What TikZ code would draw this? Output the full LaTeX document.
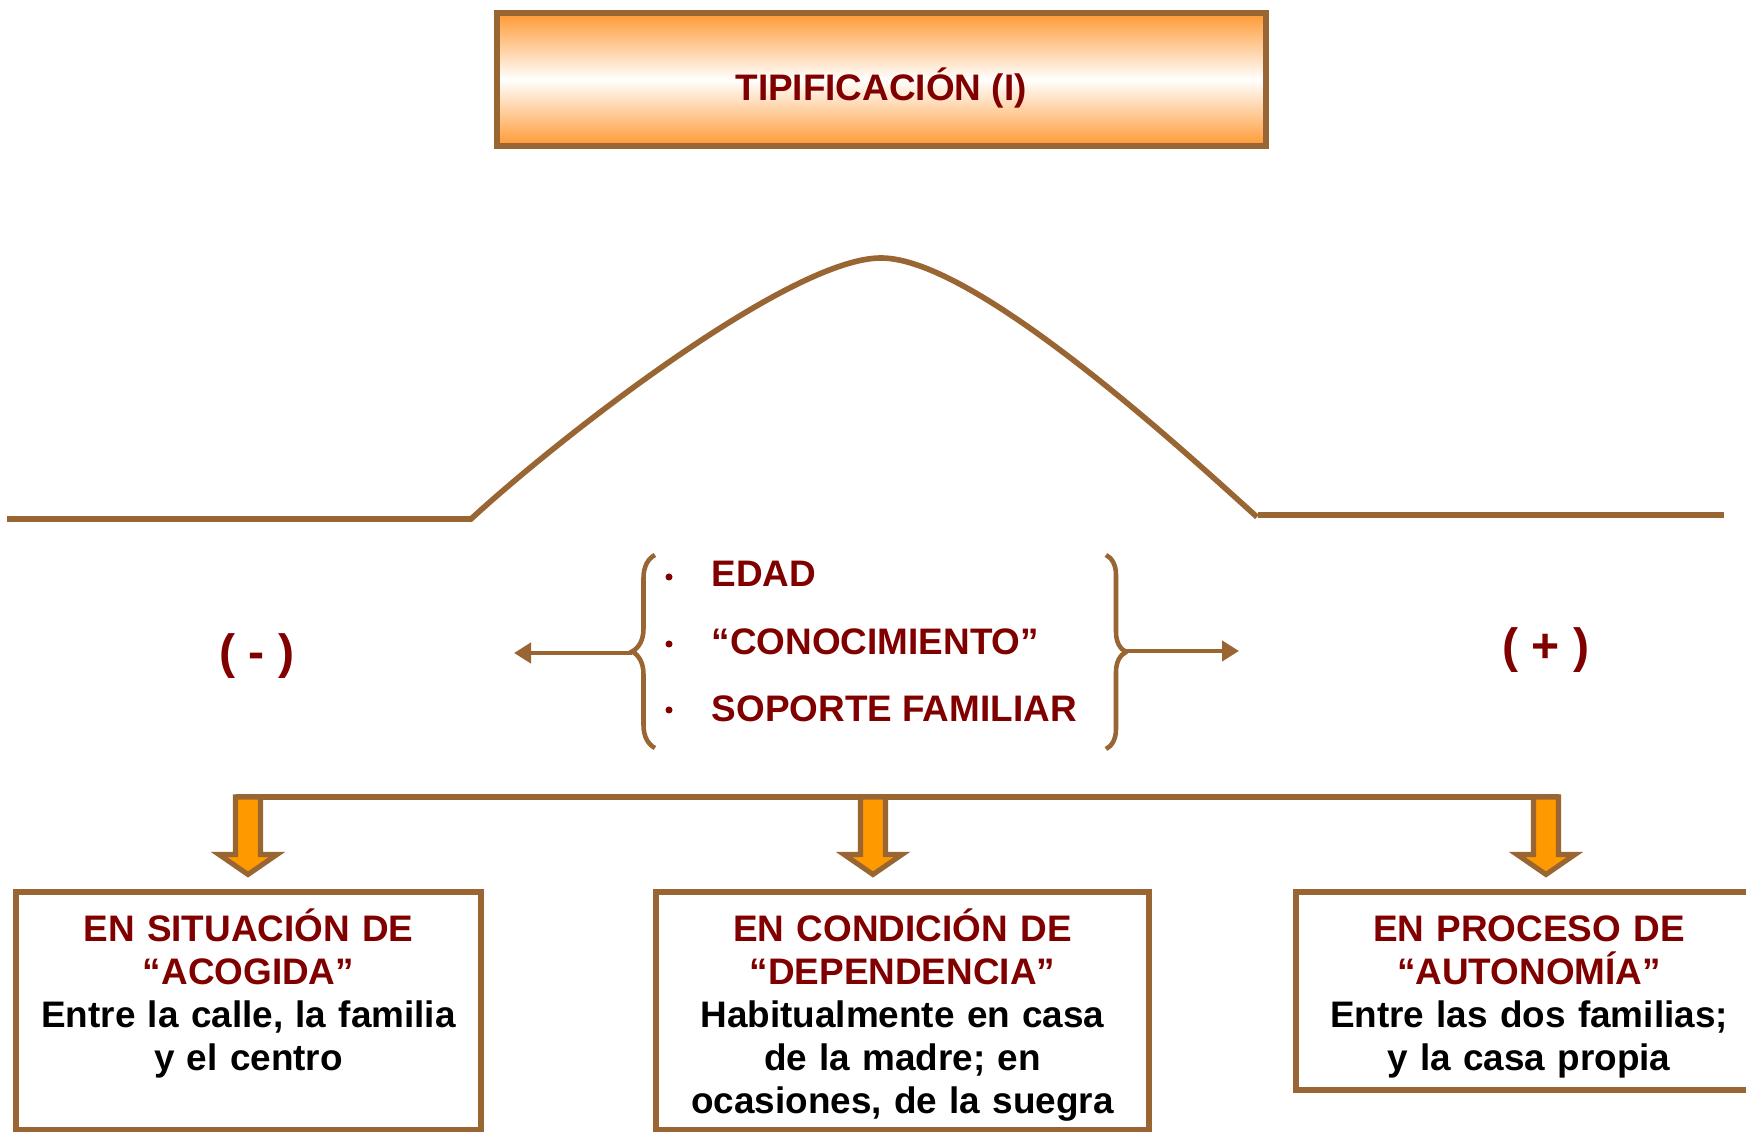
\documentclass[tikz,border=0pt]{standalone}
\usepackage{fontspec}
\setmainfont{Liberation Sans}
\usetikzlibrary{arrows.meta}
\usetikzlibrary{calc}
\usetikzlibrary{positioning}
\usetikzlibrary{decorations.pathreplacing}

\definecolor{tiporojo}{RGB}{128,0,0}
\definecolor{tipomarron}{RGB}{153,102,51}
\definecolor{tiponaranja}{RGB}{255,153,0}
\definecolor{tipodegradado}{RGB}{255,153,51}

\tikzset{
  linea/.style={draw=tipomarron, line width=1.6pt},
  caja/.style={draw=tipomarron, line width=1.55pt, inner sep=0pt},
  rotulo/.style={inner sep=0pt, text=tiporojo, font=\bfseries\fontsize{10.5}{12.2}\selectfont},
  texto/.style={inner sep=0pt, text width=4.6cm, align=center, anchor=base, font=\bfseries\fontsize{10.5}{12.2}\selectfont},
  flechabloque/.style={draw=tipomarron, fill=tiponaranja, line width=1.45pt, line join=miter},
  llave/.style={draw=tipomarron, line width=1.3pt, decorate}
}

\begin{document}
\begin{tikzpicture}
                \useasboundingbox (0,0) rectangle (17.46,11.32);

                \node[caja, line width=1.7pt, minimum width=7.69cm, minimum height=1.33cm,
                      top color=tipodegradado, bottom color=tipodegradado, middle color=white] (titulo) at (8.815,10.525) {};
                \node[rotulo] (textotitulo) at (8.81,10.44) {TIPIFICACIÓN (I)};

                \draw[linea] (0.07,6.13) -- (4.71,6.13)
                    .. controls (5.6,6.95) and (7.9,8.74) .. (8.81,8.74)
                    .. controls (9.75,8.74) and (11.85,6.8) .. (12.57,6.15);
                \draw[linea] (12.58,6.17) -- (17.24,6.17);

                \draw[llave, decoration={brace, amplitude=0.23cm}] (6.55,3.84) -- (6.55,5.77);
                \draw[llave, decoration={brace, amplitude=0.2cm}] (11.06,5.77) -- (11.06,3.83);

                \coordinate (llaveizq) at (6.32,4.79);
                \coordinate (llaveder) at (11.26,4.81);
                \coordinate (finizq) at (5.14,4.79);
                \coordinate (finder) at (12.39,4.81);
                \draw[linea, line width=1.4pt, -{Triangle[length=0.17cm, width=0.2cm]}] (llaveizq) -- (finizq);
                \draw[linea, line width=1.4pt, -{Triangle[length=0.17cm, width=0.2cm]}] (llaveder) -- (finder);

                \node[rotulo, anchor=base west] (edad) at (7.11,5.45) {EDAD};
                \node[rotulo, anchor=base west] (conocimiento) at (7.11,4.77) {“CONOCIMIENTO”};
                \node[rotulo, anchor=base west] (soporte) at (7.11,4.10) {SOPORTE FAMILIAR};
                \fill[tiporojo] (6.69,5.55) circle (0.035);
                \fill[tiporojo] (6.69,4.88) circle (0.035);
                \fill[tiporojo] (6.69,4.22) circle (0.035);

                \node[rotulo, font=\bfseries\fontsize{13.7}{16}\selectfont] (menos) at (2.57,4.76) {( - )};
                \node[rotulo, font=\bfseries\fontsize{13.7}{16}\selectfont] (mas) at (15.46,4.82) {( + )};

                \coordinate (barra1) at (2.48,3.35);
                \coordinate (barra2) at (8.73,3.35);
                \coordinate (barra3) at (15.46,3.35);
                \draw[linea, line width=1.5pt] ($(barra1)+(-0.125,0)$) -- ($(barra3)+(0.125,0)$);
                \draw[flechabloque] (barra1) ++(-0.125,0) -- ++(0,-0.575) -- ++(-0.165,0) -- ++(0.29,-0.2)
                    -- ++(0.29,0.2) -- ++(-0.165,0) -- ++(0,0.575) -- cycle;
                \draw[flechabloque] (barra2) ++(-0.125,0) -- ++(0,-0.575) -- ++(-0.165,0) -- ++(0.29,-0.2)
                    -- ++(0.29,0.2) -- ++(-0.165,0) -- ++(0,0.575) -- cycle;
                \draw[flechabloque] (barra3) ++(-0.125,0) -- ++(0,-0.575) -- ++(-0.165,0) -- ++(0.29,-0.2)
                    -- ++(0.29,0.2) -- ++(-0.165,0) -- ++(0,0.575) -- cycle;

                \node[caja, minimum width=4.65cm, minimum height=2.38cm] (acogida) at (2.485,1.21) {};
                \node[caja, minimum width=4.93cm, minimum height=2.38cm] (dependencia) at (9.025,1.21) {};
                \node[caja, minimum width=4.66cm, minimum height=1.98cm] (autonomia) at (15.29,1.41) {};

                \node[texto] (txtacogida) at ($(acogida.north)+(0,-0.525)$)
                    {\textcolor{tiporojo}{EN SITUACIÓN DE}\\\textcolor{tiporojo}{“ACOGIDA”}\\Entre la calle, la familia\\y el centro};
                \node[texto] (txtdependencia) at ($(dependencia.north)+(0,-0.525)$)
                    {\textcolor{tiporojo}{EN CONDICIÓN DE}\\\textcolor{tiporojo}{“DEPENDENCIA”}\\Habitualmente en casa\\de la madre; en\\ocasiones, de la suegra};
                \node[texto] (txtautonomia) at ($(autonomia.north)+(0,-0.525)$)
                    {\textcolor{tiporojo}{EN PROCESO DE}\\\textcolor{tiporojo}{“AUTONOMÍA”}\\Entre las dos familias;\\y la casa propia};
\end{tikzpicture}
\end{document}
